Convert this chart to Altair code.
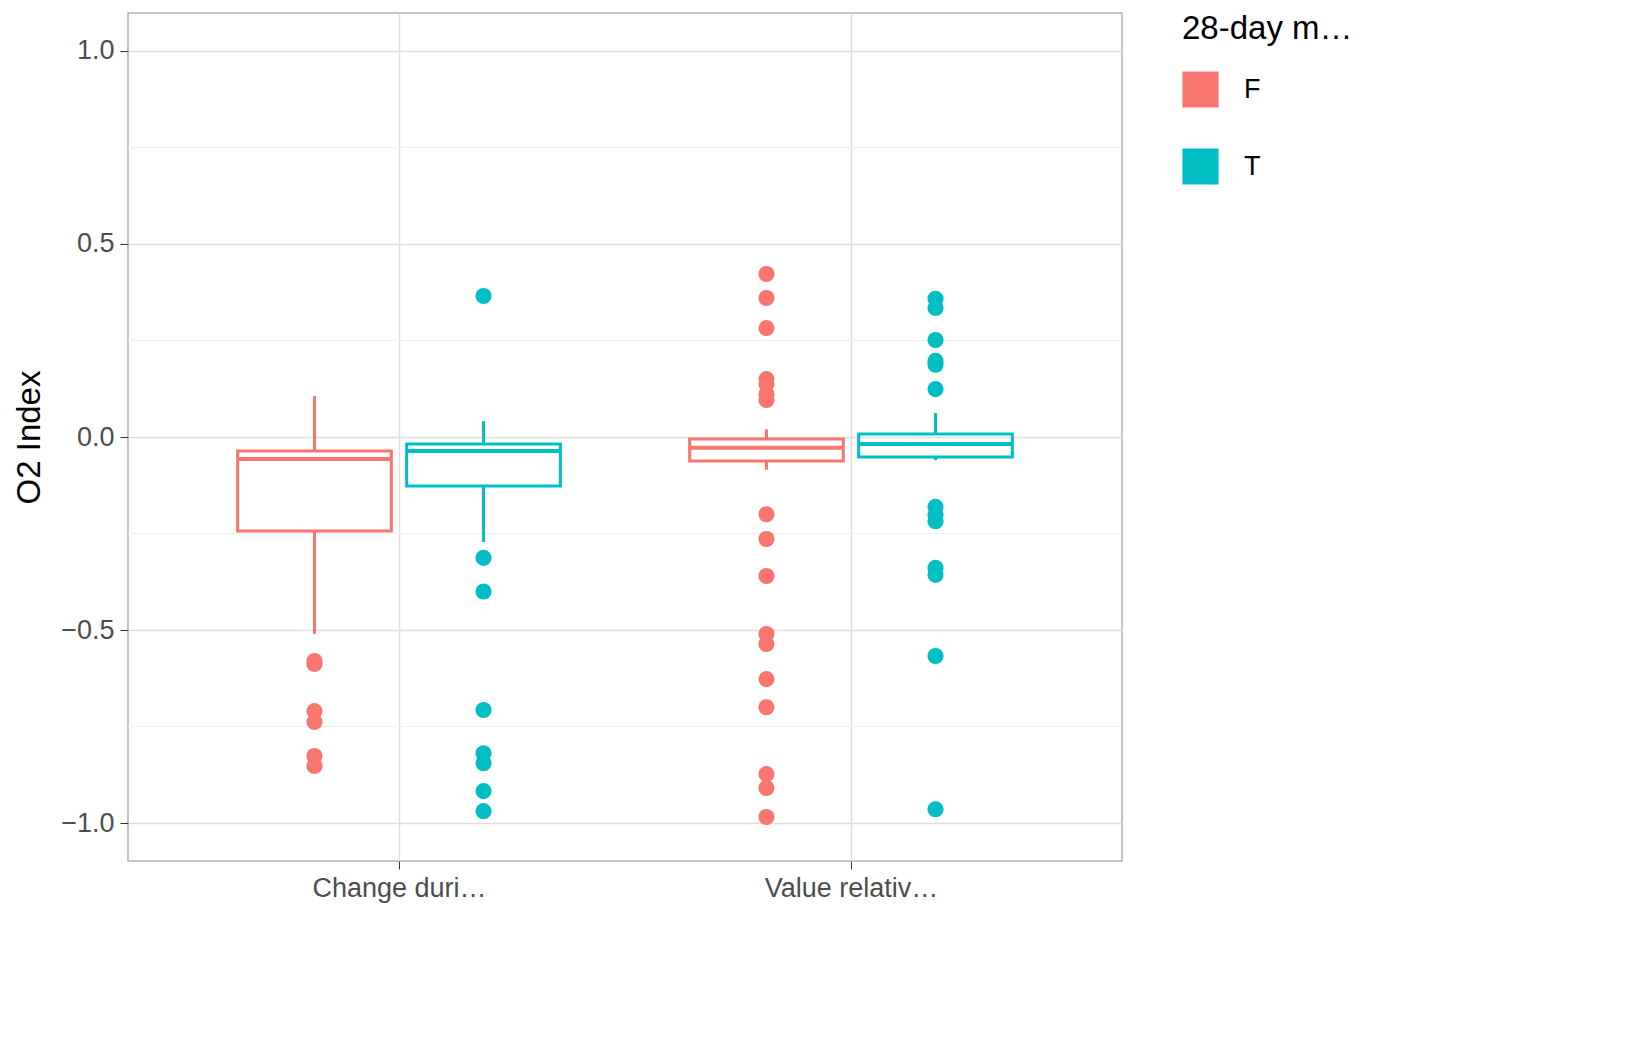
import altair as alt
import pandas as pd

categories = ["Change during proning", "Value relative to baseline"]
groups = ["F", "T"]
colors = ["#F8766D", "#00BFC4"]

# per box: category index, group, lower whisker, Q1, median, Q3, upper whisker
box_cat = [1, 1, 2, 2]
box_grp = ["F", "T", "F", "T"]
lower = [-0.51, -0.272, -0.085, -0.06]
q1 = [-0.2435, -0.127, -0.062, -0.052]
median = [-0.057, -0.036, -0.028, -0.018]
q3 = [-0.036, -0.018, -0.005, 0.008]
upper = [0.106, 0.041, 0.02, 0.062]

out_change_F = [-0.58, -0.588, -0.71, -0.738, -0.826, -0.852]
out_change_T = [0.365, -0.313, -0.40, -0.707, -0.819, -0.845, -0.917, -0.969]
out_value_F = [0.422, 0.36, 0.282, 0.15, 0.137, 0.111, 0.096, -0.2, -0.264, -0.36,
               -0.51, -0.536, -0.627, -0.70, -0.873, -0.909, -0.984]
out_value_T = [0.358, 0.334, 0.251, 0.197, 0.187, 0.124, -0.181, -0.202, -0.218,
               -0.339, -0.357, -0.567, -0.964]

off = {"F": -0.187, "T": 0.187}
hw = 0.17

boxes = pd.DataFrame({"cat": box_cat, "grp": box_grp, "lower": lower, "q1": q1,
                      "median": median, "q3": q3, "upper": upper})
boxes["xc"] = boxes["cat"] + boxes["grp"].map(off)
boxes["xl"] = boxes["xc"] - hw
boxes["xr"] = boxes["xc"] + hw

rows = []
for cat, grp, vals in [(1, "F", out_change_F), (1, "T", out_change_T),
                       (2, "F", out_value_F), (2, "T", out_value_T)]:
    for v in vals:
        rows.append({"xc": cat + off[grp], "grp": grp, "v": v})
outliers = pd.DataFrame(rows)

minor = pd.DataFrame({"y": [-0.75, -0.25, 0.25, 0.75]})

xs = alt.Scale(domain=[0.4004, 2.5996], nice=False, zero=False)
ys = alt.Scale(domain=[-1.098, 1.098], nice=False, zero=False)
cs = alt.Scale(domain=groups, range=colors)
leg = alt.Legend(title="28-day mortality", symbolType="square", symbolSize=1100,
                 symbolStrokeWidth=3, symbolFillColor="white")
col = alt.Color("grp:N", scale=cs, legend=leg)

xaxis = alt.Axis(values=[1, 2], title=None,
                 labelExpr="datum.value == 1 ? 'Change during proning' : 'Value relative to baseline'")
yaxis = alt.Axis(values=[-1, -0.5, 0, 0.5, 1], format=".1f", title="O2 Index")

minor_grid = alt.Chart(minor).mark_rule(color="#f0f0f0", strokeWidth=1).encode(
    y=alt.Y("y:Q", scale=ys, axis=yaxis))

base = alt.Chart(boxes)
whisk_hi = base.mark_rule(strokeWidth=3).encode(
    x=alt.X("xc:Q", scale=xs, axis=xaxis), y=alt.Y("q3:Q", scale=ys), y2="upper",
    color=col)
whisk_lo = base.mark_rule(strokeWidth=3).encode(
    x=alt.X("xc:Q", scale=xs), y=alt.Y("q1:Q", scale=ys), y2="lower", color=col)
rect = base.mark_rect(filled=False, strokeWidth=3).encode(
    x=alt.X("xl:Q", scale=xs), x2="xr",
    y=alt.Y("q1:Q", scale=ys), y2="q3", color=col)
med = base.mark_rule(strokeWidth=4).encode(
    x=alt.X("xl:Q", scale=xs), x2="xr", y=alt.Y("median:Q", scale=ys), color=col)
pts = alt.Chart(outliers).mark_circle(size=260, opacity=1).encode(
    x=alt.X("xc:Q", scale=xs), y=alt.Y("v:Q", scale=ys), color=col)

chart = alt.layer(minor_grid, whisk_hi, whisk_lo, rect, med, pts).properties(
    width=994, height=848, background="white"
).configure_view(stroke="#b3b3b3", strokeWidth=1.5).configure_axis(
    labelFont="Liberation Sans", titleFont="Liberation Sans",
    labelFontSize=27, titleFontSize=33, labelColor="#4d4d4d", titleColor="black",
    titleFontWeight="normal", gridColor="#dedede", gridWidth=1.5,
    domain=False, tickColor="#333333", tickSize=8, labelPadding=6, titlePadding=14
).configure_legend(
    titleFont="Liberation Sans", labelFont="Liberation Sans",
    titleFontSize=33, labelFontSize=27, titleFontWeight="normal",
    titleColor="black", labelColor="black", orient="right", offset=60,
    rowPadding=30, titlePadding=25, labelOffset=25, padding=0
)

chart.save("out.html", embed_options={"renderer": "svg", "actions": False})
